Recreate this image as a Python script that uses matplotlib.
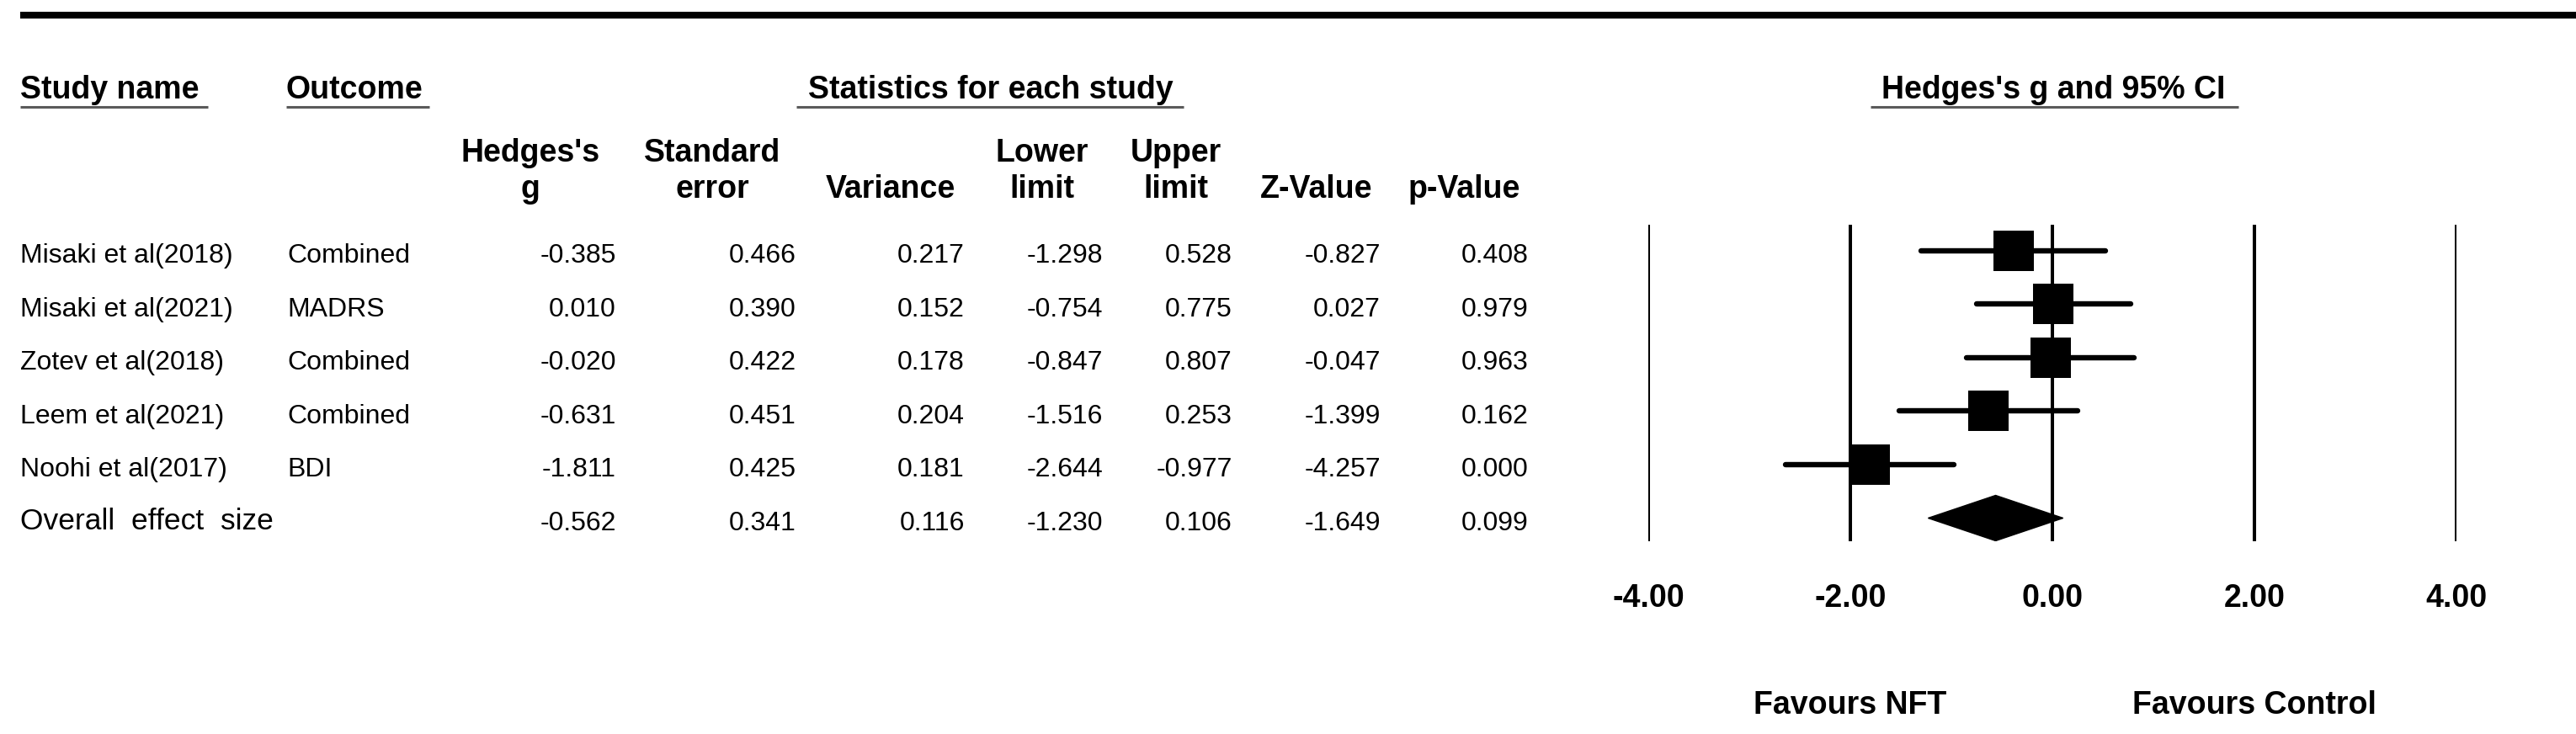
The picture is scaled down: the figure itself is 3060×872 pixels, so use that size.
import matplotlib
matplotlib.use("Agg")
import matplotlib.pyplot as plt
from matplotlib import font_manager as fm
from matplotlib.patches import Polygon

# ---------------- data ----------------
studies = ["Misaki et al(2018)", "Misaki et al(2021)", "Zotev et al(2018)",
           "Leem et al(2021)", "Noohi et al(2017)"]
outcomes = ["Combined", "MADRS", "Combined", "Combined", "BDI"]
hedges_g = [-0.385, 0.010, -0.020, -0.631, -1.811]
std_err = [0.466, 0.390, 0.422, 0.451, 0.425]
variance = [0.217, 0.152, 0.178, 0.204, 0.181]
lower = [-1.298, -0.754, -0.847, -1.516, -2.644]
upper = [0.528, 0.775, 0.807, 0.253, -0.977]
z_value = [-0.827, 0.027, -0.047, -1.399, -4.257]
p_value = [0.408, 0.979, 0.963, 0.162, 0.000]

overall_label = "Overall effect size"
overall = dict(g=-0.562, se=0.341, var=0.116, lo=-1.230, hi=0.106, z=-1.649, p=0.099)

xticks = [-4, -2, 0, 2, 4]
favours = ["Favours NFT", "Favours Control"]
favours_x = [-2, 2]

# ---------------- fonts ----------------
names = {f.name for f in fm.fontManager.ttflist}
if "Liberation Sans Narrow" in names:
    row_font, row_size = "Liberation Sans Narrow", 27
else:
    row_font, row_size = "Liberation Sans", 23
main_font = "Liberation Sans"

W, H = 3060, 872
fig = plt.figure(figsize=(W / 100, H / 100), dpi=100)
fig.patch.set_facecolor("white")

# full-figure pixel axes for the table
ax0 = fig.add_axes([0, 0, 1, 1])
ax0.set_xlim(0, W)
ax0.set_ylim(H, 0)
ax0.axis("off")

# top rule
ax0.plot([24, W], [18, 18], color="black", lw=5.8, solid_capstyle="butt")

hdr = dict(fontfamily=main_font, fontweight="bold", fontsize=27, color="black")

def underline(x0, x1, y=127):
    ax0.plot([x0, x1], [y, y], color="#5a5a5a", lw=2.2, solid_capstyle="butt")

ax0.text(24, 117, "Study name", ha="left", va="baseline", **hdr)
underline(24, 247)
ax0.text(340, 117, "Outcome", ha="left", va="baseline", **hdr)
underline(340, 510)
ax0.text(1177, 117, "Statistics for each study", ha="center", va="baseline", **hdr)
underline(946, 1406)
ax0.text(2439, 117, "Hedges's g and 95% CI", ha="center", va="baseline", **hdr)
underline(2222, 2659)

col_heads = [("Hedges's", "g", 630), ("Standard", "error", 846),
             ("", "Variance", 1058), ("Lower", "limit", 1238),
             ("Upper", "limit", 1397), ("", "Z-Value", 1564), ("", "p-Value", 1739)]
for l1, l2, xc in col_heads:
    if l1:
        ax0.text(xc, 192, l1, ha="center", va="baseline", **hdr)
    ax0.text(xc, 235, l2, ha="center", va="baseline", **hdr)

# column right edges
col_right = [732, 946, 1146, 1310, 1464, 1640, 1816]

rowtxt = dict(fontfamily=row_font, fontsize=row_size, color="black", va="baseline")
base0, step = 312, 63.6
for i in range(len(studies)):
    yb = base0 + step * i
    ax0.text(24, yb, studies[i], ha="left", **rowtxt)
    ax0.text(341, yb, outcomes[i], ha="left", **rowtxt)
    vals = [hedges_g[i], std_err[i], variance[i], lower[i], upper[i], z_value[i], p_value[i]]
    for v, xr in zip(vals, col_right):
        ax0.text(xr, yb, f"{v:.3f}", ha="right", **rowtxt)

yb = base0 + step * len(studies)
ax0.text(24, yb - 1, overall_label.replace(" ", "  "), ha="left", va="baseline",
         fontfamily=main_font, fontsize=25.5, color="black")
ov_vals = [overall[k] for k in ["g", "se", "var", "lo", "hi", "z", "p"]]
for v, xr in zip(ov_vals, col_right):
    ax0.text(xr, yb, f"{v:.3f}", ha="right", **rowtxt)

# ---------------- forest plot ----------------
top_px, bot_px = 267, 643
left_px, right_px = 1958, 2918
ax = fig.add_axes([left_px / W, 1 - bot_px / H, (right_px - left_px) / W, (bot_px - top_px) / H])
row_px = 297.5
y_top = (top_px - row_px) / step
y_bot = (bot_px - row_px) / step
ax.set_xlim(-4, 4)
ax.set_ylim(y_bot, y_top)
for s in ax.spines.values():
    s.set_visible(False)
ax.set_yticks([])
ax.set_xticks(xticks)
ax.set_xticklabels([f"{t:.2f}" for t in xticks], fontfamily=main_font,
                   fontweight="bold", fontsize=27)
ax.tick_params(axis="x", length=0, pad=36)
ax.set_facecolor("none")

for t in xticks:
    ax.axvline(t, color="black", lw=2.9, zorder=1)

for i in range(len(studies)):
    ax.plot([lower[i], upper[i]], [i, i], color="black", lw=4.6,
            solid_capstyle="round", zorder=2)
    ax.plot([hedges_g[i]], [i], marker="s", markersize=34.5, color="black",
            markeredgewidth=0, zorder=3)

io = len(studies)
hh = 27 / step
diamond = Polygon([[overall["lo"], io], [overall["g"], io - hh],
                   [overall["hi"], io], [overall["g"], io + hh]],
                  closed=True, facecolor="black", edgecolor="black", zorder=3)
ax.add_patch(diamond)

for lab, xv in zip(favours, favours_x):
    ax.annotate(lab, xy=(xv, H - 848), xycoords=("data", "figure pixels"),
                ha="center", va="baseline", **hdr)

fig.savefig("out.png", dpi=100, facecolor="white")
